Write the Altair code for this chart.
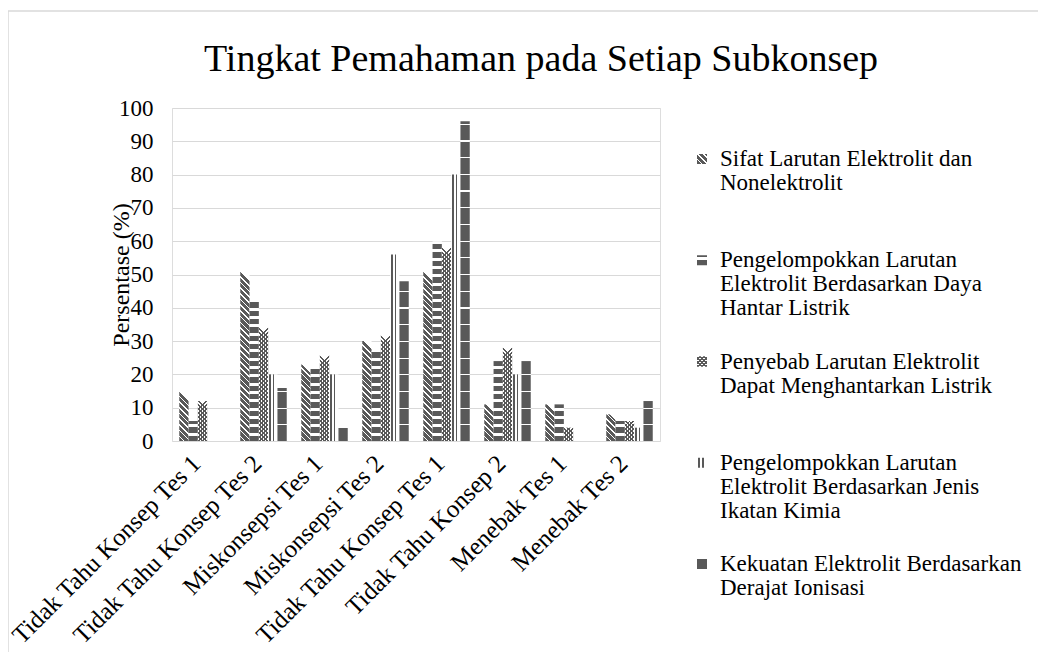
import json
import math
import altair as alt
import pandas as pd

# ---------------- data ----------------
categories = [
    "Tidak Tahu Konsep Tes 1",
    "Tidak Tahu Konsep Tes 2",
    "Miskonsepsi Tes 1",
    "Miskonsepsi Tes 2",
    "Tidak Tahu Konsep Tes 1",
    "Tidak Tahu Konsep 2",
    "Menebak Tes 1",
    "Menebak Tes 2",
]
series_lines = [
    ["Sifat Larutan Elektrolit dan", "Nonelektrolit"],
    ["Pengelompokkan Larutan", "Elektrolit Berdasarkan Daya", "Hantar Listrik"],
    ["Penyebab Larutan Elektrolit", "Dapat Menghantarkan Listrik"],
    ["Pengelompokkan Larutan", "Elektrolit Berdasarkan Jenis", "Ikatan Kimia"],
    ["Kekuatan Elektrolit Berdasarkan", "Derajat Ionisasi"],
]
sifat = [15, 51, 23, 30, 51, 11, 11, 8]
daya_hantar = [6, 42, 22, 27, 60, 24, 11, 6]
penyebab = [12, 34, 26, 32, 58, 28, 4, 6]
ikatan_kimia = [0, 20, 20, 56, 80, 20, 0, 4]
kekuatan = [0, 16, 4, 48, 96, 24, 0, 12]
series_values = [sifat, daya_hantar, penyebab, ikatan_kimia, kekuatan]
y_ticks = list(range(0, 101, 10))
title_text = "Tingkat Pemahaman pada Setiap Subkonsep"
y_title = "Persentase (%)"

# ---------------- style ----------------
FONT = "Liberation Serif"
DARK = "#595959"
WHITE = "#ffffff"
CLEAR = "rgba(255,255,255,0)"
GRID = "#d9d9d9"
PLOT_W, PLOT_H = 488, 333
PX = PLOT_H / 100.0
N_SER = len(series_values)
PAD_OUT = 0.78
BAR_W = (PLOT_W / len(categories)) / (N_SER + 2 * PAD_OUT)
SW = 10  # legend swatch size

bars_df = pd.DataFrame(
    [{"cat": ci, "sid": si, "value": v}
     for si, vals in enumerate(series_values) for ci, v in enumerate(vals)]
)
legend_df = pd.DataFrame(
    [{"sid": si, "label": "\n".join(lines)} for si, lines in enumerate(series_lines)]
)


def stripe_gradient(kind, period, dark_frac, n, w, dark, light):
    if kind == "h":
        head = "gradient: 'linear', x1: 0, y1: 1, x2: 0, y2: 0"
        k = "datum.inv"
    elif kind == "back":
        head = f"gradient: 'linear', x1: 0, y1: 1, x2: {w:.4f} * datum.inv, y2: 0"
        k = "datum.dg"
    else:
        head = f"gradient: 'linear', x1: 1, y1: 1, x2: 1 - {w:.4f} * datum.inv, y2: 0"
        k = "datum.dg"
    stops = []
    for i in range(n):
        a = i * period
        b = a + dark_frac * period
        c = a + period
        for off, col in ((a, dark), (b, dark), (b, light), (c, light)):
            stops.append(f"{{offset: min(1, {off:.3f} * {k}), color: '{col}'}}")
    return "{" + head + ", stops: [" + ", ".join(stops) + "]}"


PATTERNS = {
    0: [("back", 5.7, 0.72, DARK, WHITE)],
    1: [("h", 8.33, 0.66, DARK, WHITE)],
    2: [("fwd", 4.0, 0.38, DARK, WHITE), ("back", 4.0, 0.38, DARK, CLEAR)],
    4: [("h", 16.7, 0.93, DARK, WHITE)],
}
VSTRIPE = alt.LinearGradient(
    gradient="linear", x1=0, y1=0, x2=1, y2=0,
    stops=[
        alt.GradientStop(offset=0.0, color=WHITE),
        alt.GradientStop(offset=0.10, color=WHITE),
        alt.GradientStop(offset=0.10, color=DARK),
        alt.GradientStop(offset=0.27, color=DARK),
        alt.GradientStop(offset=0.27, color=WHITE),
        alt.GradientStop(offset=0.50, color=WHITE),
        alt.GradientStop(offset=0.50, color=DARK),
        alt.GradientStop(offset=0.67, color=DARK),
        alt.GradientStop(offset=0.67, color=WHITE),
        alt.GradientStop(offset=1.0, color=WHITE),
    ],
)


def with_geom(chart, h_expr, w):
    return (
        chart.transform_calculate(H=h_expr)
        .transform_calculate(inv="1 / datum.H")
        .transform_calculate(dg=f"datum.H / ({w * w:.4f} + datum.H * datum.H)")
    )


label_expr = json.dumps(categories) + "[datum.value]"
x_enc = alt.X(
    "cat:O",
    scale=alt.Scale(domain=list(range(len(categories))), paddingInner=0, paddingOuter=0),
    axis=alt.Axis(
        title=None, labelExpr=label_expr, labelAngle=315, labelAlign="right",
        labelBaseline="middle", labelPadding=18, labelOffset=-6, labelFont=FONT,
        labelFontSize=25, labelColor="#000000", labelLimit=400, domain=False, ticks=False,
    ),
)
xoff_enc = alt.XOffset(
    "sid:O",
    scale=alt.Scale(domain=list(range(N_SER)), paddingInner=0, paddingOuter=PAD_OUT),
)
y_enc = alt.Y(
    "value:Q", stack=None,
    scale=alt.Scale(domain=[0, 100], nice=False),
    axis=alt.Axis(
        values=y_ticks, grid=True, gridColor=GRID, gridWidth=1, domain=False, ticks=False,
        labelFont=FONT, labelFontSize=23, labelColor="#000000", labelPadding=19,
        title=y_title, titleFont=FONT, titleFontSize=24, titleFontWeight="normal",
        titleColor="#000000", titleX=-51, titleY=PLOT_H / 2, titleAngle=270,
        titleAlign="center", titleBaseline="middle",
    ),
)

bar_layers = []
for si, vals in enumerate(series_values):
    base = alt.Chart(bars_df).transform_filter(f"datum.sid == {si}")
    if si in PATTERNS:
        for kind, period, frac, dark, light in PATTERNS[si]:
            n = math.ceil((max(vals) * PX + BAR_W) / period) + 1
            expr = stripe_gradient(kind, period, frac, n, BAR_W, dark, light)
            c = with_geom(base, f"max(datum.value * {PX:.4f}, 0.01)", BAR_W)
            c = c.transform_calculate(g=expr).mark_bar(strokeWidth=0).encode(
                x=x_enc, xOffset=xoff_enc, y=y_enc, fill=alt.Fill("g:N", scale=None)
            )
            bar_layers.append(c)
    else:
        bar_layers.append(
            base.mark_bar(fill=VSTRIPE, strokeWidth=0).encode(x=x_enc, xOffset=xoff_enc, y=y_enc)
        )

leg_y = alt.Y(
    "sid:O",
    scale=alt.Scale(type="point", domain=list(range(N_SER)), range=[58, 463], padding=0),
    axis=None,
)
legend_layers = []
for si in range(N_SER):
    base = alt.Chart(legend_df).transform_filter(f"datum.sid == {si}")
    if si in PATTERNS:
        for kind, period, frac, dark, light in PATTERNS[si]:
            n = math.ceil(2 * SW / period) + 1
            expr = stripe_gradient(kind, period, frac, n, SW, dark, light)
            c = with_geom(base, str(SW), SW).transform_calculate(g=expr)
            c = c.mark_point(shape="square", size=SW * SW, filled=True, opacity=1,
                             strokeWidth=0, yOffset=-7).encode(
                x=alt.value(530), y=leg_y, fill=alt.Fill("g:N", scale=None))
            legend_layers.append(c)
    else:
        legend_layers.append(
            base.mark_point(shape="square", size=SW * SW, filled=True, opacity=1,
                            strokeWidth=0, yOffset=-7, fill=VSTRIPE).encode(
                x=alt.value(530), y=leg_y)
        )

legend_text = alt.Chart(legend_df).mark_text(
    align="left", baseline="alphabetic", font=FONT, fontSize=23, lineHeight=24,
    lineBreak="\n", color="#000000",
).encode(x=alt.value(548), y=leg_y, text="label:N")
legend_layers.append(legend_text)

frame_data = alt.Data(values=[{"f": 1}])
frame_top = alt.Chart(frame_data).mark_rule(color=GRID, strokeWidth=1.5).encode(
    x=alt.value(-164), x2=alt.value(866), y=alt.value(-97))
frame_left = alt.Chart(frame_data).mark_rule(color=GRID, strokeWidth=1.5).encode(
    x=alt.value(-164), y=alt.value(-97), y2=alt.value(544))
legend_layers += [frame_top, frame_left]

chart = (
    alt.layer(alt.layer(*bar_layers), alt.layer(*legend_layers))
    .resolve_scale(y="independent")
    .properties(
        width=PLOT_W, height=PLOT_H,
        padding={"left": 164, "top": 100, "right": 378, "bottom": 211},
        autosize=alt.AutoSizeParams(type="none"),
        title=alt.TitleParams(
            text=title_text, font=FONT, fontSize=38, fontWeight="normal", color="#000000",
            anchor="middle", frame="group", dx=125, offset=-69,
        ),
    )
    .configure_view(stroke=None)
    .configure(background="white")
)

chart.save("out.html", embed_options={"renderer": "svg", "actions": False})
